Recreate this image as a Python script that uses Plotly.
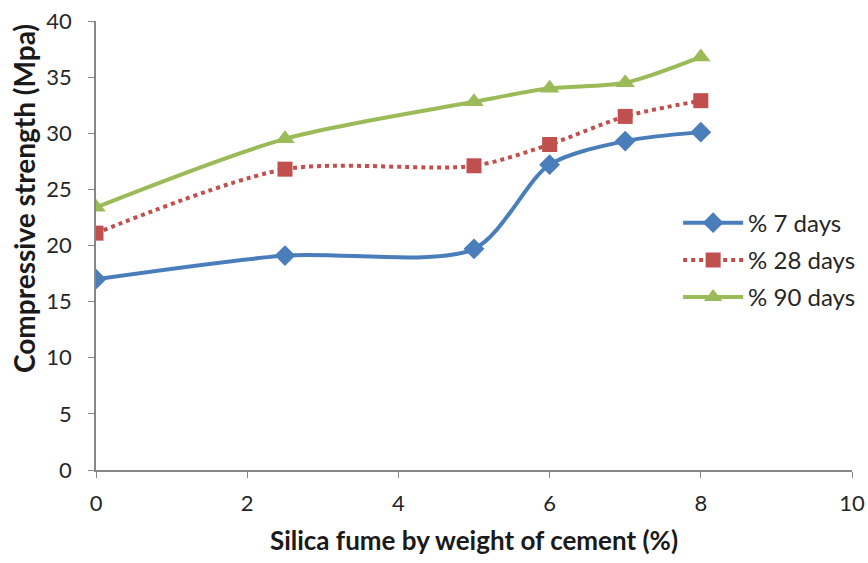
import plotly.graph_objects as go

silica_fume = [0, 2.5, 5, 6, 7, 8]
days7 = [17.0, 19.1, 19.7, 27.2, 29.3, 30.1]
days28 = [21.1, 26.8, 27.1, 29.0, 31.5, 32.9]
days90 = [23.4, 29.5, 32.8, 34.0, 34.5, 36.8]

x_ticks = [0, 2, 4, 6, 8, 10]
y_ticks = [0, 5, 10, 15, 20, 25, 30, 35, 40]

font_family = "Lato, Open Sans, sans-serif"

fig = go.Figure()
fig.add_trace(go.Scatter(
    x=silica_fume, y=days7, name="% 7 days", mode="lines+markers", legendgroup="a",
    line=dict(color="#4A7EBB", width=4, shape="spline", smoothing=0.8),
    marker=dict(symbol="diamond", size=16, color="#4A7EBB"),
))
fig.add_trace(go.Scatter(
    x=silica_fume, y=days28, name="% 28 days", mode="lines+markers", legendgroup="b",
    line=dict(color="#C0504D", width=4, dash="dot", shape="spline", smoothing=0.8),
    marker=dict(symbol="square", size=15, color="#C0504D"),
))
fig.add_trace(go.Scatter(
    x=silica_fume, y=days90, name="% 90 days", mode="lines+markers", legendgroup="c",
    line=dict(color="#9BBB59", width=4, shape="spline", smoothing=0.8),
    marker=dict(symbol="triangle-up", size=17, color="#9BBB59"),
))

fig.update_layout(
    width=868, height=563,
    margin=dict(l=96, r=16, t=21, b=93, autoexpand=False),
    plot_bgcolor="white", paper_bgcolor="white",
    font=dict(family=font_family, size=22, color="#262626"),
    legend=dict(x=0.77, y=0.6, xanchor="left", yanchor="top",
                bgcolor="rgba(255,255,255,0)", font=dict(size=24),
                tracegroupgap=3, itemwidth=60),
    annotations=[dict(
        text="<b>Compressive strength (Mpa)</b>", textangle=-90,
        xref="paper", yref="paper", x=-0.095, y=0.604,
        xanchor="center", yanchor="middle", showarrow=False,
        font=dict(size=28, color="#1a1a1a"),
    )],
)
fig.update_xaxes(
    range=[0, 10], tickvals=x_ticks, showgrid=False, zeroline=False,
    showline=True, linecolor="#878787", linewidth=1.5, automargin=False,
    ticks="outside", ticklen=6, tickcolor="#878787", ticklabelstandoff=7,
    tickfont=dict(size=22), ticklabeloverflow="allow",
    title=dict(text="<b>Silica fume by weight of cement (%)</b>", font=dict(size=26, color="#1a1a1a"), standoff=17),
)
fig.update_yaxes(
    range=[0, 40], tickvals=y_ticks, showgrid=False, zeroline=False,
    showline=True, linecolor="#878787", linewidth=1.5, automargin=False,
    ticks="outside", ticklen=6, tickcolor="#878787", ticklabelstandoff=12,
    tickfont=dict(size=22), ticklabeloverflow="allow",
)

fig.write_html("out.html", config={"displayModeBar": False},
               post_script="document.body.style.margin='0';document.body.style.overflow='hidden';")
